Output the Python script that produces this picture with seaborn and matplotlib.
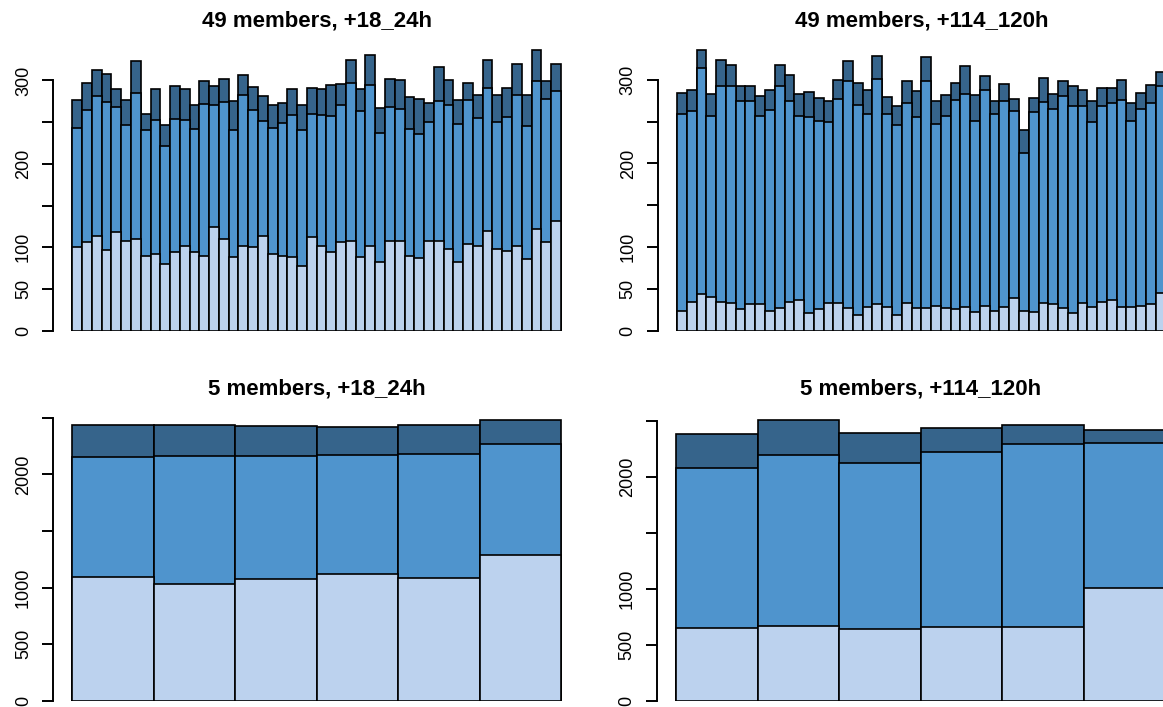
import numpy as np
import pandas as pd
import matplotlib
matplotlib.use("Agg")
import matplotlib.pyplot as plt
import seaborn as sns

# cumulative counts: top of light / middle / dark layer
tl_low = [100, 106, 113, 97, 118, 107, 110, 90, 92, 80, 94, 101, 94, 90, 124, 110, 88, 101, 100, 113,
          92, 90, 88, 78, 112, 102, 94, 106, 107, 88, 101, 82, 107, 108, 89, 87, 107, 107, 98, 82,
          104, 102, 120, 98, 96, 102, 86, 122, 106, 132]
tl_mid = [243, 265, 281, 274, 268, 246, 285, 240, 252, 221, 254, 253, 242, 272, 270, 274, 241, 283, 264, 251,
          243, 249, 258, 240, 260, 258, 257, 270, 297, 263, 294, 237, 268, 266, 242, 236, 250, 275, 270, 248,
          277, 255, 291, 250, 256, 283, 245, 299, 278, 287]
tl_top = [277, 297, 312, 308, 290, 276, 323, 260, 290, 247, 293, 290, 270, 299, 293, 302, 275, 306, 292, 281,
          270, 273, 290, 271, 291, 290, 294, 296, 325, 290, 330, 267, 302, 300, 280, 278, 273, 316, 301, 277,
          297, 282, 325, 283, 291, 320, 282, 336, 299, 320]

tr_low = [24, 35, 44, 40, 35, 33, 26, 32, 32, 24, 28, 35, 37, 22, 26, 33, 33, 27, 19, 29,
          32, 29, 19, 34, 28, 28, 30, 27, 26, 29, 23, 30, 24, 29, 39, 24, 23, 33, 32, 27,
          21, 33, 29, 35, 37, 29, 29, 30, 32, 45]
tr_mid = [259, 263, 314, 257, 292, 292, 275, 275, 257, 264, 292, 275, 257, 255, 251, 249, 277, 298, 270, 259,
          301, 259, 246, 272, 255, 298, 247, 257, 276, 283, 251, 288, 259, 274, 263, 212, 261, 273, 265, 281,
          269, 269, 249, 269, 272, 276, 251, 265, 272, 292]
tr_top = [284, 288, 335, 283, 324, 317, 293, 292, 281, 288, 318, 306, 283, 285, 278, 275, 300, 322, 296, 288,
          328, 279, 269, 298, 286, 327, 274, 282, 296, 316, 282, 305, 274, 295, 277, 240, 278, 302, 283, 298,
          293, 288, 274, 290, 290, 300, 272, 284, 294, 309]

bl_low = [1094, 1035, 1080, 1118, 1088, 1291]
bl_mid = [2150, 2162, 2163, 2173, 2182, 2268]
bl_top = [2438, 2438, 2430, 2420, 2435, 2476]

br_low = [649, 667, 636, 660, 658, 1004]
br_mid = [2080, 2194, 2129, 2221, 2293, 2308]
br_top = [2381, 2506, 2395, 2434, 2461, 2416]

titles = ["49 members, +18_24h", "49 members, +114_120h",
          "5 members, +18_24h", "5 members, +114_120h"]
ticks_small = [0, 50, 100, 150, 200, 250, 300]
labels_small = ["0", "50", "100", "", "200", "", "300"]
ticks_big = [0, 500, 1000, 1500, 2000, 2500]
labels_big = ["0", "500", "1000", "", "2000", ""]

colors = ["#BCD2EE", "#4F94CD", "#36648B"]

sns.set_theme(style="white")
plt.rcParams["font.family"] = ["Liberation Sans", "DejaVu Sans"]
plt.rcParams["text.color"] = "black"

W, H = 1163, 707
fig = plt.figure(figsize=(W / 100, H / 100), dpi=100)


def add_px_axes(left, bottom, width, height):
    return fig.add_axes([left / W, 1 - bottom / H, width / W, height / H])


def stacked(ax, low, mid, top, ticks, labels, title, title_y):
    n = len(low)
    df = pd.DataFrame({"bin": range(n), "low": low, "mid": mid, "top": top})
    for col, c in zip(["top", "mid", "low"], colors[::-1]):
        sns.barplot(data=df, x="bin", y=col, color=c, saturation=1, width=1,
                    edgecolor="black", linewidth=1.2, errorbar=None, ax=ax)
    ext = 0.04 * n
    ax.set_xlim(-0.5 - ext, n - 0.5 + ext)
    ax.set_xlabel("")
    ax.set_ylabel("")
    ax.set_xticks([])
    for s in ["top", "right", "bottom"]:
        ax.spines[s].set_visible(False)
    ax.spines["left"].set_bounds(ticks[0], ticks[-1])
    ax.spines["left"].set_linewidth(1.4)
    ax.spines["left"].set_color("black")
    ax.set_yticks(ticks)
    ax.set_yticklabels(labels, rotation=90, va="center")
    ax.tick_params(axis="y", direction="out", length=8, width=1.4, pad=7,
                   labelsize=13, left=True, colors="black")
    ax.patch.set_alpha(0)
    bbox = ax.get_position()
    fig.text((bbox.x0 + bbox.x1) / 2, 1 - title_y / H, title, ha="center",
             va="baseline", fontsize=16, fontweight="bold", color="black")


ax1 = add_px_axes(52.8, 330.7, 527.6, 348 * 0.8343)
ax1.set_ylim(0, 348)
stacked(ax1, tl_low, tl_mid, tl_top, ticks_small, labels_small, titles[0], 27)

ax2 = add_px_axes(657.5, 331, 527.6, 348 * 0.8377)
ax2.set_ylim(0, 348)
stacked(ax2, tr_low, tr_mid, tr_top, ticks_small, labels_small, titles[1], 27)

ax3 = add_px_axes(52.7, 701, 528.1, 2560 * 0.11333)
ax3.set_ylim(0, 2560)
stacked(ax3, bl_low, bl_mid, bl_top, ticks_big, labels_big, titles[2], 395)

ax4 = add_px_axes(656.5, 700.6, 528.1, 2560 * 0.1118)
ax4.set_ylim(0, 2560)
stacked(ax4, br_low, br_mid, br_top, ticks_big, labels_big, titles[3], 395)

fig.savefig("out.png", dpi=100)
